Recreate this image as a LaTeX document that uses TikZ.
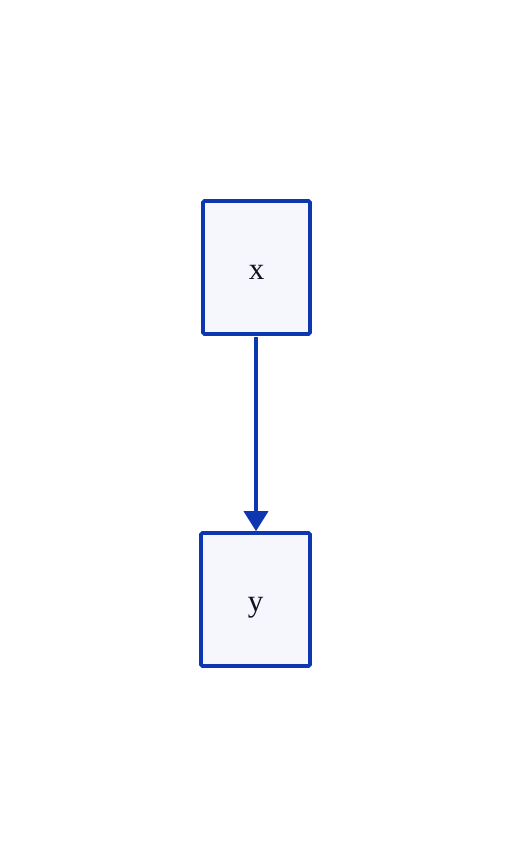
\documentclass[tikz,border=0pt]{standalone}
\usepackage{fontspec}
\setmainfont{Liberation Serif}
\usetikzlibrary{arrows.meta}
\definecolor{edgeblue}{HTML}{0D37B1}
\definecolor{boxfill}{HTML}{F5F7FC}
\definecolor{labelink}{HTML}{111122}
\begin{document}
\begin{tikzpicture}[x=1pt,y=-1pt,
  vbox/.style={draw=edgeblue, fill=boxfill, line width=3.6pt, rounded corners=1.5pt,
    minimum width=#1, minimum height=133pt, inner sep=0pt, text=labelink,
    text height=10pt, text depth=0pt,
    font=\fontsize{31}{33}\selectfont},
  link/.style={draw=edgeblue, line width=3.6pt,
    -{Triangle[length=20pt,width=24pt]}}]
  \path[use as bounding box] (0,0) rectangle (512,868);
  \node[vbox=107pt] (x) at (256.5,267.5) {\raisebox{-7pt}{x}};
  \node[vbox=109pt] (y) at (255.5,599.5) {\raisebox{-7pt}{y}};
  \draw[link] (x.south -| 256,0) ++(0,1.5) -- (y.north -| 256,0);
\end{tikzpicture}
\end{document}
